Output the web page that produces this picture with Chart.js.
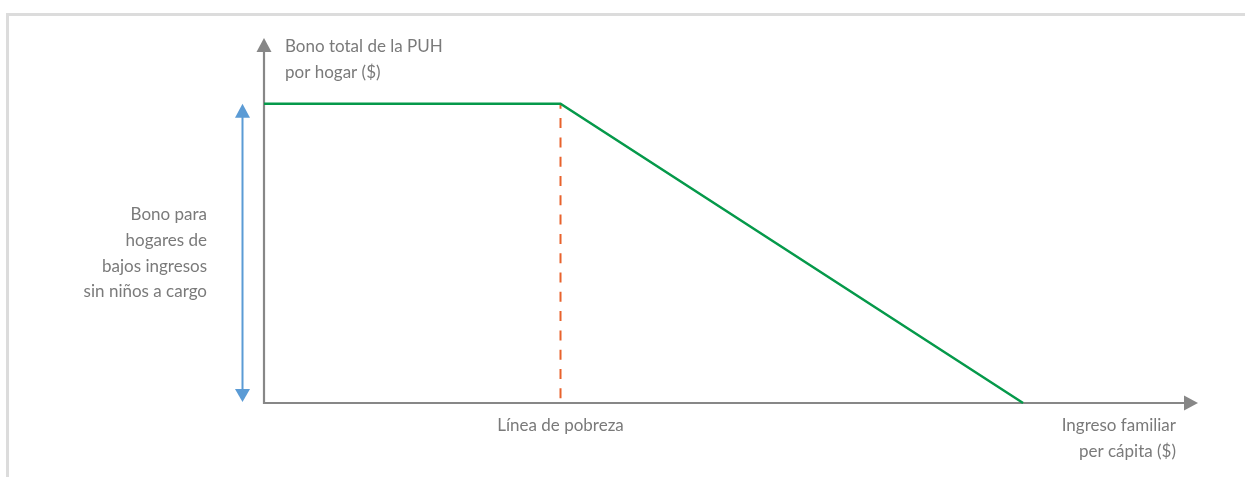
<!DOCTYPE html>
<html>
<head>
<meta charset="utf-8">
<script src="https://cdn.jsdelivr.net/npm/chart.js@4.4.1/dist/chart.umd.min.js"></script>
<style>
  html, body { margin: 0; padding: 0; background: #ffffff; }
  #wrap { position: relative; width: 1245px; height: 477px; }
</style>
</head>
<body>
<div id="wrap"><canvas id="c"></canvas></div>
<script>
// ---- Data (schematic units) ----
const incomeX = [0, 100, 256];        // household income per capita
const bonusY = [100, 100, 0];          // total bonus per household
const povertyLine = 100;               // poverty line position on income axis
const bonusMax = 100;                  // full bonus level
const xAxisMax = 315;
const yAxisMax = 122;

// ---- Texts ----
const yAxisTitle = ["Bono total de la PUH", "por hogar ($)"];
const xAxisTitle = ["Ingreso familiar", "per cápita ($)"];
const povertyLabel = "Línea de pobreza";
const bonusLabel = ["Bono para", "hogares de", "bajos ingresos", "sin niños a cargo"];

const TEXT_COLOR = "#7a7a7a";
const AXIS_COLOR = "#878787";
const GREEN = "#05994a";
const ORANGE = "#e8622c";
const BLUE = "#5b9bd5";
const FONT = "17px Lato, 'Open Sans', sans-serif";

const decor = {
  id: "decor",
  beforeDraw(chart) {
    const ctx = chart.ctx;
    ctx.save();
    ctx.strokeStyle = "#dcdcdc";
    ctx.lineWidth = 3;
    ctx.beginPath();
    ctx.moveTo(7.5, chart.height + 5);
    ctx.lineTo(7.5, 14.5);
    ctx.lineTo(chart.width + 5, 14.5);
    ctx.stroke();
    ctx.restore();
  },
  beforeDatasetsDraw(chart) {
    const ctx = chart.ctx;
    const xs = chart.scales.x, ys = chart.scales.y;
    const x0 = xs.getPixelForValue(0);
    const y0 = ys.getPixelForValue(0);
    const xEnd = xs.getPixelForValue(xAxisMax);
    const yTop = ys.getPixelForValue(yAxisMax);
    const ah = 14, aw = 7.5;
    ctx.save();
    ctx.strokeStyle = AXIS_COLOR;
    ctx.fillStyle = AXIS_COLOR;
    ctx.lineWidth = 2.2;
    ctx.lineJoin = "miter";
    ctx.beginPath();
    ctx.moveTo(x0, yTop + ah - 1);
    ctx.lineTo(x0, y0);
    ctx.lineTo(xEnd - ah + 1, y0);
    ctx.stroke();
    // y arrow head
    ctx.beginPath();
    ctx.moveTo(x0, yTop);
    ctx.lineTo(x0 - aw, yTop + ah);
    ctx.lineTo(x0 + aw, yTop + ah);
    ctx.closePath();
    ctx.fill();
    // x arrow head
    ctx.beginPath();
    ctx.moveTo(xEnd, y0);
    ctx.lineTo(xEnd - ah, y0 - aw);
    ctx.lineTo(xEnd - ah, y0 + aw);
    ctx.closePath();
    ctx.fill();

    // blue double arrow (bonus range)
    const bx = x0 - 21.5;
    const bTop = ys.getPixelForValue(bonusMax);
    const bBot = y0 - 1;
    ctx.strokeStyle = BLUE;
    ctx.fillStyle = BLUE;
    ctx.lineWidth = 2;
    ctx.beginPath();
    ctx.moveTo(bx, bTop + 10);
    ctx.lineTo(bx, bBot - 10);
    ctx.stroke();
    ctx.beginPath();
    ctx.moveTo(bx, bTop);
    ctx.lineTo(bx - 7.5, bTop + 14);
    ctx.lineTo(bx + 7.5, bTop + 14);
    ctx.closePath();
    ctx.fill();
    ctx.beginPath();
    ctx.moveTo(bx, bBot);
    ctx.lineTo(bx - 7.5, bBot - 13);
    ctx.lineTo(bx + 7.5, bBot - 13);
    ctx.closePath();
    ctx.fill();
    ctx.restore();
  },
  afterDraw(chart) {
    const ctx = chart.ctx;
    const xs = chart.scales.x, ys = chart.scales.y;
    const x0 = xs.getPixelForValue(0);
    const y0 = ys.getPixelForValue(0);
    const xEnd = xs.getPixelForValue(xAxisMax);
    const yTop = ys.getPixelForValue(yAxisMax);
    ctx.save();
    ctx.fillStyle = TEXT_COLOR;
    ctx.font = FONT;
    ctx.textBaseline = "middle";
    // y-axis title
    ctx.textAlign = "left";
    yAxisTitle.forEach((t, i) => ctx.fillText(t, x0 + 21, yTop + 9 + i * 25.5));
    // bonus label
    ctx.textAlign = "right";
    const mid = ys.getPixelForValue(bonusMax / 2);
    bonusLabel.forEach((t, i) =>
      ctx.fillText(t, x0 - 57, mid + (i - (bonusLabel.length - 1) / 2) * 25.7));
    // x-axis title
    xAxisTitle.forEach((t, i) => ctx.fillText(t, xEnd - 22, y0 + 23 + i * 25.5));
    // poverty label
    ctx.textAlign = "center";
    ctx.fillText(povertyLabel, xs.getPixelForValue(povertyLine), y0 + 23);
    ctx.restore();
  }
};

new Chart(document.getElementById("c"), {
  type: "line",
  data: {
    datasets: [
      {
        label: "Bono total",
        data: incomeX.map((x, i) => ({ x: x, y: bonusY[i] })),
        borderColor: GREEN,
        borderWidth: 2.5,
        pointRadius: 0,
        tension: 0,
        clip: false,
        order: 1
      },
      {
        label: "Línea de pobreza",
        data: [{ x: povertyLine, y: bonusMax }, { x: povertyLine, y: 0 }],
        borderColor: ORANGE,
        borderWidth: 2,
        borderDash: [10, 9.3],
        borderDashOffset: 5,
        pointRadius: 0,
        clip: false,
        order: 2
      }
    ]
  },
  options: {
    responsive: true,
    maintainAspectRatio: false,
    animation: false,
    layout: { padding: { left: 264, right: 47, top: 38, bottom: 74 } },
    plugins: { legend: { display: false }, tooltip: { enabled: false } },
    scales: {
      x: { type: "linear", min: 0, max: xAxisMax, display: false },
      y: { type: "linear", min: 0, max: yAxisMax, display: false }
    }
  },
  plugins: [decor]
});
</script>
</body>
</html>
